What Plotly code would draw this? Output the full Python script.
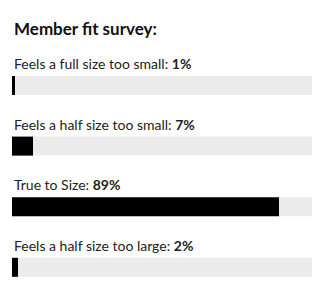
import plotly.graph_objects as go

title_text = "Member fit survey:"
categories = ["Feels a full size too small", "Feels a half size too small",
              "True to Size", "Feels a half size too large"]
values = [1, 7, 89, 2]
full_scale = 100

W, H = 321, 298
first_center = 85.5
step = 60.6
bar_h = 19
label_offset = 22

centers = [first_center + step * i for i in range(len(categories))]

fig = go.Figure()
fig.add_trace(go.Bar(
    x=[full_scale] * len(categories), y=centers, orientation="h",
    width=bar_h, marker=dict(color="#ececec", line=dict(width=0)),
    hoverinfo="skip", showlegend=False))
fig.add_trace(go.Bar(
    x=values, y=centers, orientation="h",
    width=bar_h, marker=dict(color="#000000", line=dict(width=0)),
    hoverinfo="skip", showlegend=False))

font_family = "Lato, 'Source Sans Pro', sans-serif"
annotations = [dict(
    text="<b>" + title_text + "</b>", x=0, xref="paper", y=28, yref="y",
    xanchor="left", yanchor="middle", showarrow=False,
    font=dict(family=font_family, size=17, color="#111111"))]
for c, cat, v in zip(centers, categories, values):
    annotations.append(dict(
        text=f"{cat}: <b>{v}%</b>", x=0, xref="paper", y=c - label_offset, yref="y",
        xanchor="left", yanchor="middle", showarrow=False,
        font=dict(family=font_family, size=14, color="#222222")))

fig.update_layout(
    width=W, height=H, margin=dict(l=12, r=9, t=0, b=0),
    paper_bgcolor="white", plot_bgcolor="white",
    barmode="overlay",
    xaxis=dict(range=[0, full_scale], visible=False, fixedrange=True),
    yaxis=dict(range=[H, 0], visible=False, fixedrange=True),
    annotations=annotations,
)
fig.write_html("out.html", config={"displayModeBar": False})
